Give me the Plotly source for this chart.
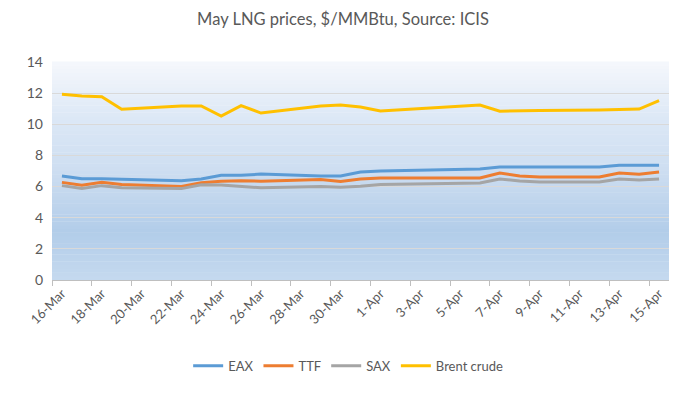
import plotly.graph_objects as go

dates = ["2021-03-16", "2021-03-17", "2021-03-18", "2021-03-19", "2021-03-22",
         "2021-03-23", "2021-03-24", "2021-03-25", "2021-03-26", "2021-03-29",
         "2021-03-30", "2021-03-31", "2021-04-01", "2021-04-06", "2021-04-07",
         "2021-04-08", "2021-04-09", "2021-04-12", "2021-04-13", "2021-04-14",
         "2021-04-15"]

eax = [6.68, 6.50, 6.50, 6.48, 6.38, 6.49, 6.72, 6.73, 6.80, 6.68, 6.68,
       6.93, 7.00, 7.13, 7.25, 7.25, 7.25, 7.25, 7.37, 7.37, 7.37]
ttf = [6.27, 6.08, 6.27, 6.14, 6.00, 6.25, 6.34, 6.38, 6.34, 6.45, 6.32,
       6.49, 6.55, 6.55, 6.87, 6.68, 6.61, 6.61, 6.87, 6.79, 6.94]
sax = [6.06, 5.87, 6.06, 5.93, 5.87, 6.12, 6.10, 6.00, 5.92, 6.00, 5.95,
       6.02, 6.14, 6.23, 6.49, 6.36, 6.29, 6.29, 6.49, 6.42, 6.49]
brent = [11.93, 11.82, 11.77, 10.96, 11.18, 11.18, 10.53, 11.20, 10.72, 11.18,
         11.24, 11.11, 10.85, 11.24, 10.84, 10.88, 10.89, 10.92, 10.96, 10.98,
         11.52]

series_names = ["EAX", "TTF", "SAX", "Brent crude"]
series_values = [eax, ttf, sax, brent]
series_colors = ["#5B9BD5", "#ED7D31", "#A5A5A5", "#FFC000"]

tick_dates = ["2021-03-16", "2021-03-18", "2021-03-20", "2021-03-22", "2021-03-24",
              "2021-03-26", "2021-03-28", "2021-03-30", "2021-04-01", "2021-04-03",
              "2021-04-05", "2021-04-07", "2021-04-09", "2021-04-11", "2021-04-13",
              "2021-04-15"]
boundary_ticks = ["2021-03-15 12:00", "2021-03-17 12:00", "2021-03-19 12:00",
                  "2021-03-21 12:00", "2021-03-23 12:00", "2021-03-25 12:00",
                  "2021-03-27 12:00", "2021-03-29 12:00", "2021-03-31 12:00",
                  "2021-04-02 12:00", "2021-04-04 12:00", "2021-04-06 12:00",
                  "2021-04-08 12:00", "2021-04-10 12:00", "2021-04-12 12:00",
                  "2021-04-14 12:00"]

FONT = "Lato, 'Liberation Sans', sans-serif"
TXT = "#595959"

fig = go.Figure()
for name, vals, col in zip(series_names, series_values, series_colors):
    fig.add_trace(go.Scatter(x=dates, y=vals, name=name, mode="lines",
                             line=dict(color=col, width=3)))

# gradient plot background (stylistic)
stops = [(0.0, (197, 217, 239)), (0.22, (178, 205, 233)), (0.5, (205, 222, 241)),
         (0.75, (221, 232, 246)), (1.0, (245, 248, 252))]

def colat(t):
    for (t0, c0), (t1, c1) in zip(stops[:-1], stops[1:]):
        if t0 <= t <= t1:
            f = (t - t0) / (t1 - t0)
            return "rgb(%d,%d,%d)" % tuple(round(a + (b - a) * f) for a, b in zip(c0, c1))
    return "rgb(%d,%d,%d)" % stops[-1][1]

N = 60
shapes = []
for i in range(N):
    y0 = i / N
    y1 = (i + 1) / N
    shapes.append(dict(type="rect", xref="x domain", yref="y domain",
                       x0=0, x1=1, y0=y0, y1=y1 + 0.002, layer="below",
                       line=dict(width=0), fillcolor=colat((y0 + y1) / 2)))

# page body has an 8px margin, so the figure is sized/offset accordingly
fig.update_layout(
    width=683, height=386,
    margin=dict(l=44, r=22, t=54, b=114),
    paper_bgcolor="white",
    plot_bgcolor="rgba(0,0,0,0)",
    shapes=shapes,
    font=dict(family=FONT, color=TXT, size=12),
    title=dict(text="May LNG prices, $/MMBtu, Source: ICIS", x=(343 - 8) / 683, xanchor="center",
               y=1 - 11 / 386, yanchor="middle", yref="container",
               font=dict(family=FONT, size=16.5, color=TXT)),
    showlegend=True,
    legend=dict(orientation="h", x=0.48, xanchor="center", y=-0.394, yanchor="middle",
                font=dict(family=FONT, size=13, color=TXT), bgcolor="rgba(0,0,0,0)",
                itemwidth=30, tracegroupgap=0),
    xaxis=dict(
        type="date",
        range=["2021-03-15 12:00", "2021-04-15 12:00"],
        tickvals=tick_dates, tickformat="%-d-%b", tickangle=-45,
        ticks="", showgrid=False, showline=True, linecolor="#BFBFBF", linewidth=1,
        tickfont=dict(family=FONT, size=13, color=TXT),
        minor=dict(tickvals=boundary_ticks, ticks="outside", ticklen=5,
                   tickcolor="#BFBFBF", showgrid=False),
    ),
    yaxis=dict(
        range=[0, 14], dtick=2, tick0=0, showgrid=True, gridcolor="#D9D9D9",
        gridwidth=1, zeroline=False, showline=False, ticks="",
        ticklabelstandoff=8,
        tickfont=dict(family=FONT, size=14, color=TXT),
    ),
)

fig.write_html("out.html")
